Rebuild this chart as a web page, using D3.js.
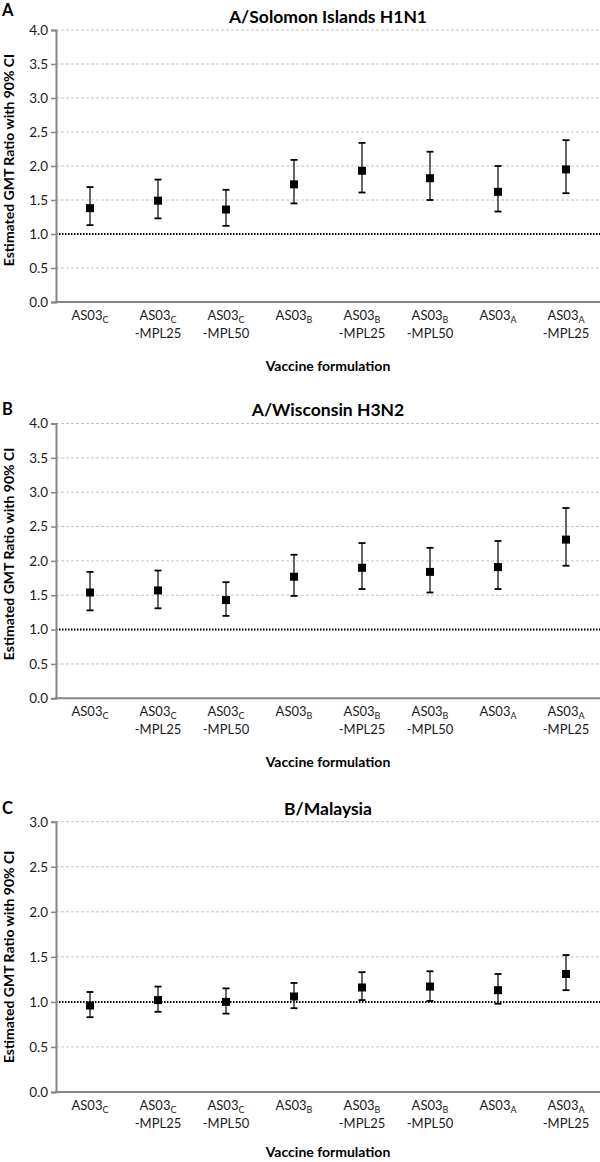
<!DOCTYPE html>
<html>
<head>
<meta charset="utf-8">
<script src="https://cdn.jsdelivr.net/npm/d3@7"></script>
<style>
  html, body { margin: 0; padding: 0; background: #fff; }
  svg { display: block; font-family: Lato, "Open Sans", sans-serif; }
</style>
</head>
<body>
<svg id="chart" width="600" height="1162"></svg>
<script>
// ---- data ----
const catBase = ["AS03", "AS03", "AS03", "AS03", "AS03", "AS03", "AS03", "AS03"];
const catSub = ["C", "C", "C", "B", "B", "B", "A", "A"];
const catSuffix = ["", "-MPL25", "-MPL50", "", "-MPL25", "-MPL50", "", "-MPL25"];
const categories = catBase.map((b, i) => b + catSub[i] + catSuffix[i]);

const panelLetters = ["A", "B", "C"];
const panelTitles = ["A/Solomon Islands H1N1", "A/Wisconsin H3N2", "B/Malaysia"];

const estA = [1.38, 1.49, 1.36, 1.73, 1.93, 1.82, 1.62, 1.95];
const lowA = [1.13, 1.23, 1.12, 1.45, 1.61, 1.50, 1.33, 1.60];
const upA  = [1.69, 1.80, 1.65, 2.09, 2.34, 2.21, 2.00, 2.38];

const estB = [1.54, 1.57, 1.43, 1.77, 1.90, 1.84, 1.91, 2.31];
const lowB = [1.28, 1.31, 1.20, 1.49, 1.59, 1.54, 1.59, 1.93];
const upB  = [1.84, 1.86, 1.69, 2.09, 2.26, 2.19, 2.29, 2.77];

const estC = [0.96, 1.02, 1.00, 1.06, 1.16, 1.17, 1.13, 1.31];
const lowC = [0.83, 0.89, 0.87, 0.93, 1.02, 1.01, 0.98, 1.13];
const upC  = [1.11, 1.17, 1.15, 1.21, 1.33, 1.34, 1.31, 1.52];

const yTicksA = [0.0, 0.5, 1.0, 1.5, 2.0, 2.5, 3.0, 3.5, 4.0];
const yTicksB = [0.0, 0.5, 1.0, 1.5, 2.0, 2.5, 3.0, 3.5, 4.0];
const yTicksC = [0.0, 0.5, 1.0, 1.5, 2.0, 2.5, 3.0];

const refValue = 1.0;
const yAxisTitle = "Estimated GMT Ratio with 90% CI";
const xAxisTitle = "Vaccine formulation";

// ---- layout (positions only) ----
const layout = [
  { top: 30,    bottom: 302,   titleY: 23,  letterY: 16,  yTitleShift: -6, xTitleY: 371 },
  { top: 423.5, bottom: 698.3, titleY: 416, letterY: 415, yTitleShift: -7, xTitleY: 767 },
  { top: 821.7, bottom: 1092,  titleY: 815, letterY: 814, yTitleShift: 0,  xTitleY: 1157 }
];
const panels = [
  { est: estA, low: lowA, up: upA, ticks: yTicksA },
  { est: estB, low: lowB, up: upB, ticks: yTicksB },
  { est: estC, low: lowC, up: upC, ticks: yTicksC }
];

const svg = d3.select("#chart");
const left = 56, right = 600;
const x = d3.scaleBand().domain(categories).range([left, right]).padding(0);

panels.forEach((p, pi) => {
  const L = layout[pi];
  const g = svg.append("g");
  const yMax = d3.max(p.ticks);
  const y = d3.scaleLinear().domain([0, yMax]).range([L.bottom, L.top]);

  // gridlines
  g.append("g").selectAll("line").data(p.ticks.filter(t => t > 0 && t !== refValue))
    .join("line")
    .attr("x1", left).attr("x2", right)
    .attr("y1", d => y(d)).attr("y2", d => y(d))
    .attr("stroke", "#c4c4c4").attr("stroke-width", 1)
    .attr("stroke-dasharray", "3,2");

  // reference line
  g.append("line")
    .attr("x1", left).attr("x2", right)
    .attr("y1", y(refValue)).attr("y2", y(refValue))
    .attr("stroke", "#000").attr("stroke-width", 2)
    .attr("stroke-dasharray", "1.5,1.5");

  // y axis
  const yAxis = d3.axisLeft(y).tickValues(p.ticks).tickFormat(d3.format(".1f")).tickSize(5).tickPadding(3);
  const ya = g.append("g").attr("transform", `translate(${left},0)`).call(yAxis);
  ya.select(".domain").attr("stroke", "#868686").attr("stroke-width", 2);
  ya.selectAll(".tick line").attr("stroke", "#868686").attr("stroke-width", 1.5);
  ya.selectAll(".tick text").attr("font-size", 13.5).attr("fill", "#1a1a1a")
    .attr("font-family", "Lato, sans-serif");

  // x axis line
  g.append("line")
    .attr("x1", left - 1).attr("x2", right)
    .attr("y1", L.bottom).attr("y2", L.bottom)
    .attr("stroke", "#868686").attr("stroke-width", 2);

  // x labels
  const xl = g.append("g").selectAll("text").data(categories).join("text")
    .attr("x", d => x(d) + x.bandwidth() / 2)
    .attr("y", L.bottom + 18)
    .attr("text-anchor", "middle")
    .attr("font-size", 13).attr("fill", "#1a1a1a");
  xl.append("tspan").text((d, i) => catBase[i]);
  xl.append("tspan").attr("font-size", 9).attr("dy", 3).text((d, i) => catSub[i]);
  g.append("g").selectAll("text").data(categories).join("text")
    .attr("x", d => x(d) + x.bandwidth() / 2)
    .attr("y", L.bottom + 36)
    .attr("text-anchor", "middle")
    .attr("font-size", 13).attr("fill", "#1a1a1a")
    .text((d, i) => catSuffix[i]);

  // error bars
  const eb = g.append("g").selectAll("g").data(categories).join("g")
    .attr("transform", d => `translate(${x(d) + x.bandwidth() / 2},0)`);
  eb.append("line")
    .attr("y1", (d, i) => y(p.low[i])).attr("y2", (d, i) => y(p.up[i]))
    .attr("stroke", "#333").attr("stroke-width", 1.5);
  eb.append("line")
    .attr("x1", -3.5).attr("x2", 3.5)
    .attr("y1", (d, i) => y(p.up[i])).attr("y2", (d, i) => y(p.up[i]))
    .attr("stroke", "#000").attr("stroke-width", 1.8);
  eb.append("line")
    .attr("x1", -3.5).attr("x2", 3.5)
    .attr("y1", (d, i) => y(p.low[i])).attr("y2", (d, i) => y(p.low[i]))
    .attr("stroke", "#000").attr("stroke-width", 1.8);
  eb.append("rect")
    .attr("x", -4).attr("width", 8).attr("height", 8)
    .attr("y", (d, i) => y(p.est[i]) - 4)
    .attr("fill", "#000");

  // titles
  svg.append("text")
    .attr("x", (left + right) / 2).attr("y", L.titleY)
    .attr("text-anchor", "middle")
    .attr("font-size", 17.5).attr("font-weight", "bold").attr("fill", "#000")
    .text(panelTitles[pi]);
  svg.append("text")
    .attr("x", 2).attr("y", L.letterY)
    .attr("font-size", 16.5).attr("font-weight", "bold").attr("fill", "#000")
    .text(panelLetters[pi]);

  // axis titles
  svg.append("text")
    .attr("transform", `translate(14,${(L.top + L.bottom) / 2 + L.yTitleShift}) rotate(-90)`)
    .attr("text-anchor", "middle")
    .attr("font-size", 14).attr("font-weight", "bold").attr("fill", "#000")
    .text(yAxisTitle);
  svg.append("text")
    .attr("x", (left + right) / 2).attr("y", L.xTitleY)
    .attr("text-anchor", "middle")
    .attr("font-size", 14).attr("font-weight", "bold").attr("fill", "#000")
    .text(xAxisTitle);
});
</script>
</body>
</html>
